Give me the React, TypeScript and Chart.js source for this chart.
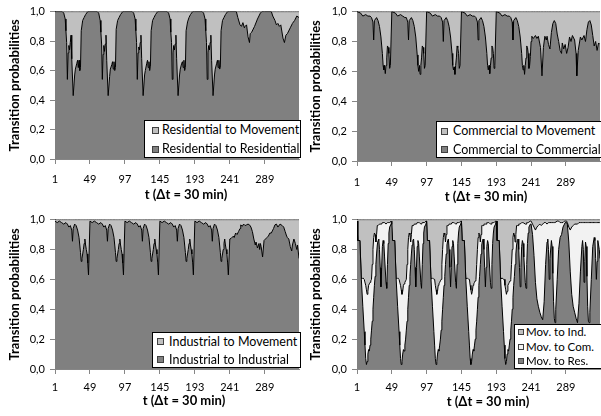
import React, { useEffect, useRef } from 'react';
import { Chart, registerables } from 'chart.js';

Chart.register(...registerables);

const FONT = 'Lato, "Open Sans", "DejaVu Sans", sans-serif';
const AXIS = '#868686';
const DARK = '#808080';
const LIGHT = '#c0c0c0';
const WHITE = '#f2f2f2';

const xTickValues = [1, 49, 97, 145, 193, 241, 289];
const xTickLabels = ['1', '49', '97', '145', '193', '241', '289'];
const yTickLabels = ['0,0', '0,2', '0,4', '0,6', '0,8', '1,0'];
const xTitle = 't (\u0394t = 30 min)';
const yTitle = 'Transition probabilities';

// ---------- Panel 1: Residential ----------
const residentialT = [
  1, 11, 13, 15, 16, 17, 18, 19, 20, 21, 22, 23, 24, 26, 28, 29, 31, 32, 33, 34, 35, 36, 37, 39, 41, 43, 46,
  49, 59, 61, 63, 64, 65, 66, 67, 68, 69, 70, 71, 72, 74, 76, 77, 79, 80, 81, 82, 83, 84, 85, 87, 89, 91, 94,
  97, 107, 109, 111, 112, 113, 114, 115, 116, 117, 118, 119, 120, 122, 124, 125, 127, 128, 129, 130, 131, 132, 133, 135, 137, 139, 142,
  145, 155, 157, 159, 160, 161, 162, 163, 164, 165, 166, 167, 168, 170, 172, 173, 175, 176, 177, 178, 179, 180, 181, 183, 185, 187, 190,
  193, 203, 205, 207, 208, 209, 210, 211, 212, 213, 214, 215, 216, 218, 220, 221, 223, 224, 225, 226, 227, 228, 229, 231, 233, 235, 238,
  241, 250, 252, 255, 257, 259, 261, 262, 264, 266, 268, 269, 271, 275, 279, 283, 285,
  289, 298, 300, 303, 305, 307, 309, 311, 314, 316, 318, 320, 324, 327, 330, 333, 336,
];
const residentialToResidential = [
  1, 1, 0.99, 0.95, 0.87, 0.79, 0.54, 0.72, 0.77, 0.74, 0.79, 0.84, 0.68, 0.43, 0.57, 0.61, 0.65, 0.67, 0.62, 0.67, 0.6, 0.62, 0.87, 0.94, 0.96, 0.98, 1,
  1, 1, 0.99, 0.94, 0.86, 0.78, 0.54, 0.71, 0.77, 0.73, 0.78, 0.84, 0.67, 0.43, 0.56, 0.61, 0.64, 0.66, 0.61, 0.66, 0.6, 0.62, 0.88, 0.94, 0.96, 0.98, 1,
  1, 1, 0.99, 0.95, 0.87, 0.79, 0.54, 0.72, 0.76, 0.74, 0.79, 0.84, 0.68, 0.43, 0.57, 0.6, 0.65, 0.67, 0.62, 0.66, 0.6, 0.63, 0.87, 0.94, 0.96, 0.98, 1,
  1, 1, 0.99, 0.95, 0.86, 0.79, 0.54, 0.72, 0.77, 0.74, 0.78, 0.84, 0.68, 0.43, 0.57, 0.61, 0.65, 0.66, 0.62, 0.67, 0.6, 0.62, 0.87, 0.93, 0.96, 0.98, 1,
  1, 1, 0.99, 0.95, 0.87, 0.79, 0.54, 0.72, 0.77, 0.74, 0.79, 0.84, 0.67, 0.43, 0.57, 0.61, 0.65, 0.67, 0.62, 0.67, 0.61, 0.62, 0.87, 0.94, 0.96, 0.98, 1,
  1, 1, 0.96, 0.91, 0.9, 0.925, 0.89, 0.9, 0.91, 0.83, 0.79, 0.85, 0.86, 0.9, 0.95, 0.99, 1,
  1, 1, 0.97, 0.94, 0.91, 0.92, 0.9, 0.91, 0.82, 0.79, 0.84, 0.85, 0.89, 0.92, 0.94, 0.97, 0.96,
];

// ---------- Panel 2: Commercial ----------
const commercialT = [
  1, 6, 9, 13, 16, 19, 21, 23, 24, 25, 28, 30, 32, 34, 36, 37, 38, 39, 40, 41, 42, 43, 44, 45, 46, 47,
  49, 54, 57, 61, 64, 67, 69, 71, 72, 73, 76, 78, 80, 82, 84, 85, 86, 87, 88, 89, 90, 91, 92, 93, 94, 95,
  97, 102, 105, 109, 112, 115, 117, 119, 120, 121, 124, 126, 128, 130, 132, 133, 134, 135, 136, 137, 138, 139, 140, 141, 142, 143,
  145, 150, 153, 157, 160, 163, 165, 167, 168, 169, 172, 174, 176, 178, 180, 181, 182, 183, 184, 185, 186, 187, 188, 189, 190, 191,
  193, 198, 201, 205, 208, 211, 213, 215, 216, 217, 220, 222, 224, 226, 228, 229, 230, 231, 232, 233, 234, 235, 236, 237, 238, 239, 240,
  241, 242, 244, 247, 249, 251, 254, 256, 258, 260, 262, 263, 265, 267, 269, 271, 273, 275, 277, 279, 281, 283, 284, 286, 288,
  290, 292, 294, 296, 298, 301, 303, 304, 306, 309, 311, 314, 316, 318, 320, 322, 324, 326, 328, 330, 332, 334, 336,
];
const commercialToCommercial = [
  1, 0.99, 0.97, 0.98, 0.97, 0.97, 0.96, 0.93, 0.81, 0.94, 0.96, 0.94, 0.9, 0.83, 0.72, 0.64, 0.61, 0.64, 0.585, 0.64, 0.69, 0.77, 0.76, 0.72, 0.62, 0.64,
  1, 0.99, 0.97, 0.98, 0.97, 0.96, 0.96, 0.93, 0.81, 0.94, 0.96, 0.94, 0.9, 0.83, 0.71, 0.64, 0.6, 0.64, 0.58, 0.64, 0.69, 0.77, 0.76, 0.72, 0.62, 0.64,
  1, 0.99, 0.97, 0.98, 0.97, 0.97, 0.96, 0.93, 0.8, 0.94, 0.96, 0.94, 0.9, 0.83, 0.72, 0.64, 0.61, 0.63, 0.58, 0.64, 0.69, 0.77, 0.76, 0.72, 0.62, 0.64,
  1, 0.99, 0.97, 0.98, 0.97, 0.97, 0.96, 0.93, 0.81, 0.94, 0.96, 0.94, 0.9, 0.83, 0.72, 0.64, 0.61, 0.64, 0.585, 0.64, 0.69, 0.77, 0.76, 0.72, 0.62, 0.64,
  1, 0.99, 0.97, 0.98, 0.97, 0.97, 0.96, 0.93, 0.81, 0.94, 0.96, 0.94, 0.9, 0.83, 0.72, 0.64, 0.61, 0.64, 0.58, 0.64, 0.69, 0.77, 0.76, 0.72, 0.62, 0.64, 0.7,
  0.8, 0.835, 0.82, 0.84, 0.82, 0.835, 0.76, 0.57, 0.76, 0.835, 0.81, 0.835, 0.78, 0.75, 0.86, 0.92, 0.94, 0.92, 0.85, 0.8, 0.74, 0.72, 0.79, 0.75, 0.78,
  0.72, 0.76, 0.83, 0.8, 0.84, 0.81, 0.72, 0.57, 0.74, 0.83, 0.81, 0.84, 0.8, 0.88, 0.93, 0.94, 0.91, 0.84, 0.77, 0.8, 0.74, 0.79, 0.78,
];

// ---------- Panel 3: Industrial ----------
const industrialT = [
  1, 4, 7, 10, 13, 16, 18, 20, 22, 24, 25, 26, 28, 30, 32, 34, 36, 37, 38, 39, 40, 41, 42, 43, 44, 45, 46, 47,
  49, 52, 55, 58, 61, 64, 66, 68, 70, 72, 73, 74, 76, 78, 80, 82, 84, 85, 86, 87, 88, 89, 90, 91, 92, 93, 94, 95,
  97, 100, 103, 106, 109, 112, 114, 116, 118, 120, 121, 122, 124, 126, 128, 130, 132, 133, 134, 135, 136, 137, 138, 139, 140, 141, 142, 143,
  145, 148, 151, 154, 157, 160, 162, 164, 166, 168, 169, 170, 172, 174, 176, 178, 180, 181, 182, 183, 184, 185, 186, 187, 188, 189, 190, 191,
  193, 196, 199, 202, 205, 208, 210, 212, 214, 216, 217, 218, 220, 222, 224, 226, 228, 229, 230, 231, 232, 233, 234, 235, 236, 237, 238, 239,
  241, 243, 246, 247, 249, 251, 253, 255, 256, 258, 260, 262, 264, 266, 268, 270, 272, 274, 276, 277, 279, 281, 282, 283, 284, 286, 288,
  290, 292, 294, 296, 298, 300, 301, 303, 305, 307, 310, 311, 313, 315, 317, 319, 320, 322, 324, 326, 327, 329, 331, 333, 334, 336,
];
const industrialToIndustrial = [
  0.99, 0.98, 0.99, 0.98, 0.97, 0.98, 0.97, 0.95, 0.96, 0.93, 0.855, 0.94, 0.97, 0.96, 0.93, 0.88, 0.78, 0.72, 0.74, 0.77, 0.8, 0.84, 0.87, 0.83, 0.8, 0.77, 0.71, 0.63,
  0.99, 0.98, 0.99, 0.98, 0.97, 0.98, 0.97, 0.95, 0.96, 0.93, 0.855, 0.94, 0.97, 0.96, 0.93, 0.88, 0.78, 0.72, 0.74, 0.77, 0.8, 0.84, 0.87, 0.83, 0.8, 0.77, 0.71, 0.63,
  0.99, 0.98, 0.99, 0.98, 0.97, 0.98, 0.97, 0.95, 0.96, 0.93, 0.855, 0.94, 0.97, 0.96, 0.93, 0.88, 0.78, 0.72, 0.74, 0.77, 0.8, 0.84, 0.87, 0.83, 0.8, 0.77, 0.71, 0.63,
  0.99, 0.98, 0.99, 0.98, 0.97, 0.98, 0.97, 0.95, 0.96, 0.93, 0.855, 0.94, 0.97, 0.96, 0.93, 0.88, 0.78, 0.72, 0.74, 0.77, 0.8, 0.84, 0.87, 0.83, 0.8, 0.77, 0.71, 0.63,
  0.99, 0.98, 0.99, 0.98, 0.97, 0.98, 0.97, 0.95, 0.96, 0.93, 0.855, 0.94, 0.97, 0.96, 0.93, 0.88, 0.78, 0.72, 0.74, 0.77, 0.8, 0.84, 0.87, 0.83, 0.8, 0.77, 0.71, 0.63,
  0.87, 0.875, 0.89, 0.88, 0.91, 0.9, 0.92, 0.94, 0.965, 0.955, 0.97, 0.96, 0.965, 0.97, 0.965, 0.95, 0.92, 0.87, 0.83, 0.85, 0.81, 0.84, 0.8, 0.84, 0.82, 0.75, 0.86,
  0.87, 0.88, 0.89, 0.91, 0.91, 0.93, 0.94, 0.965, 0.97, 0.95, 0.97, 0.97, 0.96, 0.95, 0.92, 0.89, 0.88, 0.87, 0.82, 0.79, 0.83, 0.87, 0.84, 0.8, 0.83, 0.74,
];

// ---------- Panel 4: Movement ----------
const movementT = [
  1, 2, 5, 7, 9, 11, 12, 13, 14, 15, 16, 17, 18, 19, 20, 21, 22, 23, 24, 25, 26, 27, 28, 29, 30, 31, 32, 33, 34, 35, 36, 37, 38, 39, 41, 42, 43, 44, 45, 46, 48,
  49, 50, 53, 55, 57, 59, 60, 61, 62, 63, 64, 65, 66, 67, 68, 69, 70, 71, 72, 73, 74, 75, 76, 77, 78, 79, 80, 81, 82, 83, 84, 85, 86, 87, 89, 90, 91, 92, 93, 94, 96,
  97, 98, 101, 103, 105, 107, 108, 109, 110, 111, 112, 113, 114, 115, 116, 117, 118, 119, 120, 121, 122, 123, 124, 125, 126, 127, 128, 129, 130, 131, 132, 133, 134, 135, 137, 138, 139, 140, 141, 142, 144,
  145, 146, 149, 151, 153, 155, 156, 157, 158, 159, 160, 161, 162, 163, 164, 165, 166, 167, 168, 169, 170, 171, 172, 173, 174, 175, 176, 177, 178, 179, 180, 181, 182, 183, 185, 186, 187, 188, 189, 190, 192,
  193, 194, 197, 199, 201, 203, 204, 205, 206, 207, 208, 209, 210, 211, 212, 213, 214, 215, 216, 217, 218, 219, 220, 221, 222, 223, 224, 225, 226, 227, 228, 229, 230, 231, 233, 234, 235, 236, 237, 238, 240,
  241, 243, 245, 247, 249, 251, 253, 255, 257, 259, 261, 263, 264, 265, 266, 267, 269, 270, 271, 272, 273, 274, 275, 277, 279, 281, 283, 285, 287, 288,
  290, 291, 293, 295, 297, 299, 301, 303, 305, 307, 309, 311, 312, 313, 314, 315, 316, 317, 318, 319, 320, 321, 322, 324, 326, 328, 329, 330, 331, 332, 333, 335, 336,
];
// "Mov. to Res." (top of the dark band)
const movementToResidential = [
  0.99, 0.86, 0.86, 0.6, 0.42, 0.25, 0.16, 0.07, 0.03, 0.05, 0.1, 0.13, 0.12, 0.16, 0.2, 0.26, 0.32, 0.4, 0.48, 0.56, 0.62, 0.7, 0.77, 0.83, 0.86, 0.87, 0.8, 0.68, 0.55, 0.68, 0.82, 0.86, 0.84, 0.75, 0.58, 0.54, 0.7, 0.84, 0.91, 0.95, 0.97,
  0.99, 0.86, 0.86, 0.6, 0.42, 0.25, 0.16, 0.07, 0.03, 0.05, 0.1, 0.13, 0.12, 0.16, 0.2, 0.26, 0.32, 0.4, 0.48, 0.56, 0.62, 0.7, 0.77, 0.83, 0.86, 0.87, 0.8, 0.68, 0.55, 0.68, 0.82, 0.86, 0.84, 0.75, 0.58, 0.54, 0.7, 0.84, 0.91, 0.95, 0.97,
  0.99, 0.86, 0.86, 0.6, 0.42, 0.25, 0.16, 0.07, 0.03, 0.05, 0.1, 0.13, 0.12, 0.16, 0.2, 0.26, 0.32, 0.4, 0.48, 0.56, 0.62, 0.7, 0.77, 0.83, 0.86, 0.87, 0.8, 0.68, 0.55, 0.68, 0.82, 0.86, 0.84, 0.75, 0.58, 0.54, 0.7, 0.84, 0.91, 0.95, 0.97,
  0.99, 0.86, 0.86, 0.6, 0.42, 0.25, 0.16, 0.07, 0.03, 0.05, 0.1, 0.13, 0.12, 0.16, 0.2, 0.26, 0.32, 0.4, 0.48, 0.56, 0.62, 0.7, 0.77, 0.83, 0.86, 0.87, 0.8, 0.68, 0.55, 0.68, 0.82, 0.86, 0.84, 0.75, 0.58, 0.54, 0.7, 0.84, 0.91, 0.95, 0.97,
  0.99, 0.86, 0.86, 0.6, 0.42, 0.25, 0.16, 0.07, 0.03, 0.05, 0.1, 0.13, 0.12, 0.16, 0.2, 0.26, 0.32, 0.4, 0.48, 0.56, 0.62, 0.7, 0.77, 0.83, 0.86, 0.87, 0.8, 0.68, 0.55, 0.68, 0.82, 0.86, 0.84, 0.75, 0.58, 0.54, 0.7, 0.84, 0.91, 0.95, 0.97,
  0.97, 0.9, 0.76, 0.58, 0.47, 0.42, 0.38, 0.35, 0.33, 0.45, 0.7, 0.85, 0.87, 0.8, 0.6, 0.74, 0.86, 0.82, 0.64, 0.45, 0.34, 0.31, 0.4, 0.6, 0.8, 0.88, 0.9, 0.95, 0.97, 0.98,
  0.98, 0.97, 0.85, 0.65, 0.5, 0.42, 0.38, 0.34, 0.31, 0.44, 0.65, 0.82, 0.86, 0.8, 0.58, 0.72, 0.85, 0.82, 0.62, 0.42, 0.32, 0.31, 0.38, 0.6, 0.82, 0.88, 0.86, 0.74, 0.6, 0.72, 0.86, 0.8, 0.74,
];
// upper edge of the "Mov. to Com." band (Res + Com)
const movementResPlusCom = [
  0.99, 0.86, 0.86, 0.6, 0.61, 0.6, 0.6, 0.56, 0.53, 0.5, 0.52, 0.56, 0.57, 0.58, 0.59, 0.6, 0.7, 0.8, 0.88, 0.91, 0.9, 0.85, 0.9, 0.96, 0.96, 0.96, 0.97, 0.97, 0.97, 0.97, 0.98, 0.98, 0.98, 0.98, 0.97, 0.97, 0.98, 0.98, 0.98, 0.98, 0.99,
  0.99, 0.86, 0.86, 0.6, 0.61, 0.6, 0.6, 0.56, 0.53, 0.5, 0.52, 0.56, 0.57, 0.58, 0.59, 0.6, 0.7, 0.8, 0.88, 0.91, 0.9, 0.85, 0.9, 0.96, 0.96, 0.96, 0.97, 0.97, 0.97, 0.97, 0.98, 0.98, 0.98, 0.98, 0.97, 0.97, 0.98, 0.98, 0.98, 0.98, 0.99,
  0.99, 0.86, 0.86, 0.6, 0.61, 0.6, 0.6, 0.56, 0.53, 0.5, 0.52, 0.56, 0.57, 0.58, 0.59, 0.6, 0.7, 0.8, 0.88, 0.91, 0.9, 0.85, 0.9, 0.96, 0.96, 0.96, 0.97, 0.97, 0.97, 0.97, 0.98, 0.98, 0.98, 0.98, 0.97, 0.97, 0.98, 0.98, 0.98, 0.98, 0.99,
  0.99, 0.86, 0.86, 0.6, 0.61, 0.6, 0.6, 0.56, 0.53, 0.5, 0.52, 0.56, 0.57, 0.58, 0.59, 0.6, 0.7, 0.8, 0.88, 0.91, 0.9, 0.85, 0.9, 0.96, 0.96, 0.96, 0.97, 0.97, 0.97, 0.97, 0.98, 0.98, 0.98, 0.98, 0.97, 0.97, 0.98, 0.98, 0.98, 0.98, 0.99,
  0.99, 0.86, 0.86, 0.6, 0.61, 0.6, 0.6, 0.56, 0.53, 0.5, 0.52, 0.56, 0.57, 0.58, 0.59, 0.6, 0.7, 0.8, 0.88, 0.91, 0.9, 0.85, 0.9, 0.96, 0.96, 0.96, 0.97, 0.97, 0.97, 0.97, 0.98, 0.98, 0.98, 0.98, 0.97, 0.97, 0.98, 0.98, 0.98, 0.98, 0.99,
  0.99, 0.97, 0.95, 0.93, 0.95, 0.96, 0.97, 0.96, 0.97, 0.98, 0.98, 0.97, 0.97, 0.98, 0.98, 0.98, 0.98, 0.98, 0.98, 0.98, 0.98, 0.98, 0.98, 0.99, 0.99, 0.98, 0.98, 0.98, 0.99, 0.99,
  0.99, 0.98, 0.95, 0.93, 0.95, 0.96, 0.97, 0.97, 0.97, 0.98, 0.98, 0.98, 0.98, 0.98, 0.98, 0.98, 0.98, 0.98, 0.98, 0.98, 0.98, 0.98, 0.98, 0.98, 0.98, 0.98, 0.98, 0.98, 0.98, 0.98, 0.98, 0.98, 0.98,
];

// ---------- helpers ----------
const pts = (ts: number[], vs: number[]) => ts.map((t, i) => ({ x: t, y: vs[i] }));
const ds = (label: string, ts: number[], vs: number[], color: string, fill: string) => ({
  label,
  data: pts(ts, vs),
  fill,
  backgroundColor: color,
  borderColor: '#000',
  borderWidth: 1,
  pointRadius: 0,
  tension: 0,
});

type LegendItem = { label: string; color: string };
type LegendSpec = {
  left: number; top: number; width: number; height: number;
  rows: number[]; markerLeft: number; markerSize: number; textLeft: number; fontSize: number;
  items: LegendItem[];
};
type PanelSpec = {
  left: number; top: number; width: number; height: number;
  plotLeft: number; plotTop: number; plotBottom: number; padRight: number;
  tickPad: number; yTitlePad: number; titleX: number; titleY: number;
  datasets: any[];
  legend: LegendSpec;
};

const movementToCommercial = movementResPlusCom.map((v, i) => v - movementToResidential[i]);
const movementToIndustrial = movementResPlusCom.map((v) => 1 - v);

const panels: PanelSpec[] = [
  {
    left: 0, top: 0, width: 300, height: 208,
    plotLeft: 55, plotTop: 6, plotBottom: 159, padRight: 1,
    tickPad: 9, yTitlePad: 7, titleX: 186, titleY: 194,
    datasets: [
      ds('Residential to Residential', residentialT, residentialToResidential, DARK, 'origin'),
      ds('Residential to Movement', residentialT, residentialToResidential.map((v) => 1 - v), LIGHT, '-1'),
    ],
    legend: {
      left: 144, top: 120, width: 157, height: 38, rows: [9, 28], markerLeft: 7, markerSize: 7, textLeft: 17, fontSize: 12.5,
      items: [
        { label: 'Residential to Movement', color: LIGHT },
        { label: 'Residential to Residential', color: DARK },
      ],
    },
  },
  {
    left: 300, top: 0, width: 301, height: 208,
    plotLeft: 57, plotTop: 6, plotBottom: 161, padRight: 1,
    tickPad: 10, yTitlePad: 8, titleX: 186, titleY: 196,
    datasets: [
      ds('Commercial to Commercial', commercialT, commercialToCommercial, DARK, 'origin'),
      ds('Commercial to Movement', commercialT, commercialToCommercial.map((v) => 1 - v), LIGHT, '-1'),
    ],
    legend: {
      left: 136, top: 121, width: 170, height: 37, rows: [9, 27.5], markerLeft: 4, markerSize: 7, textLeft: 16, fontSize: 12.5,
      items: [
        { label: 'Commercial to Movement', color: LIGHT },
        { label: 'Commercial to Commercial', color: DARK },
      ],
    },
  },
  {
    left: 0, top: 208, width: 300, height: 208,
    plotLeft: 55, plotTop: 8, plotBottom: 161, padRight: 1,
    tickPad: 7, yTitlePad: 7, titleX: 184, titleY: 192,
    datasets: [
      ds('Industrial to Industrial', industrialT, industrialToIndustrial, DARK, 'origin'),
      ds('Industrial to Movement', industrialT, industrialToIndustrial.map((v) => 1 - v), LIGHT, '-1'),
    ],
    legend: {
      left: 152, top: 124, width: 149, height: 36, rows: [8.5, 26.5], markerLeft: 4, markerSize: 7, textLeft: 16, fontSize: 12.5,
      items: [
        { label: 'Industrial to Movement', color: LIGHT },
        { label: 'Industrial to Industrial', color: DARK },
      ],
    },
  },
  {
    left: 300, top: 208, width: 301, height: 208,
    plotLeft: 57, plotTop: 9, plotBottom: 161, padRight: 1,
    tickPad: 7, yTitlePad: 8, titleX: 188, titleY: 193,
    datasets: [
      ds('Mov. to Res.', movementT, movementToResidential, DARK, 'origin'),
      ds('Mov. to Com.', movementT, movementToCommercial, WHITE, '-1'),
      ds('Mov. to Ind.', movementT, movementToIndustrial, LIGHT, '-1'),
    ],
    legend: {
      left: 214, top: 116, width: 90, height: 45, rows: [7, 21.5, 36], markerLeft: 3, markerSize: 6, textLeft: 11, fontSize: 11.5,
      items: [
        { label: 'Mov. to Ind.', color: LIGHT },
        { label: 'Mov. to Com.', color: WHITE },
        { label: 'Mov. to Res.', color: DARK },
      ],
    },
  },
];

function Panel({ spec }: { spec: PanelSpec }) {
  const ref = useRef<HTMLCanvasElement>(null);
  useEffect(() => {
    const canvas = ref.current;
    if (!canvas) return;
    const tickFont = { family: FONT, size: 11 };
    const chart = new Chart(canvas, {
      type: 'line',
      data: { datasets: spec.datasets },
      options: {
        animation: false,
        responsive: false,
        devicePixelRatio: 1,
        events: [],
        layout: { padding: { top: spec.plotTop, right: spec.padRight, bottom: 0, left: 0 } },
        plugins: { legend: { display: false }, tooltip: { enabled: false }, title: { display: false } },
        elements: { point: { radius: 0 }, line: { tension: 0 } },
        scales: {
          x: {
            type: 'linear',
            min: 1,
            max: 336,
            afterBuildTicks: (s: any) => {
              s.ticks = xTickValues.map((v) => ({ value: v }));
            },
            afterFit: (s: any) => {
              s.height = spec.height - spec.plotBottom;
            },
            ticks: {
              autoSkip: false,
              maxRotation: 0,
              minRotation: 0,
              font: tickFont,
              color: '#000',
              padding: spec.tickPad,
              callback: (_v: any, i: number) => xTickLabels[i],
            },
            grid: { drawOnChartArea: false, drawTicks: true, tickLength: 5, color: AXIS },
            border: { display: true, color: AXIS, width: 1 },
          },
          y: {
            type: 'linear',
            stacked: true,
            min: 0,
            max: 1,
            afterFit: (s: any) => {
              s.width = spec.plotLeft;
            },
            ticks: {
              stepSize: 0.2,
              font: tickFont,
              color: '#000',
              padding: 5,
              callback: (v: any) => yTickLabels[Math.round(Number(v) * 5)],
            },
            grid: { drawOnChartArea: false, drawTicks: true, tickLength: 5, color: AXIS },
            border: { display: true, color: AXIS, width: 1 },
            title: {
              display: true,
              text: yTitle,
              color: '#000',
              font: { family: FONT, size: 13, weight: 'bold' },
              padding: { top: spec.yTitlePad, bottom: 0 },
            },
          },
        },
      } as any,
    });
    return () => chart.destroy();
  }, [spec]);

  const lg = spec.legend;
  return (
    <div style={{ position: 'absolute', left: spec.left, top: spec.top, width: spec.width, height: spec.height }}>
      <canvas
        ref={ref}
        width={spec.width}
        height={spec.height}
        style={{ display: 'block', width: spec.width, height: spec.height }}
      />
      <div
        style={{
          position: 'absolute',
          left: lg.left,
          top: lg.top,
          width: lg.width,
          height: lg.height,
          background: '#fff',
          border: '1px solid #000',
          boxSizing: 'border-box',
        }}
      >
        {lg.items.map((it, i) => (
          <div key={i} style={{ position: 'absolute', left: 0, top: lg.rows[i] - 8, height: 16, width: '100%' }}>
            <span
              style={{
                position: 'absolute',
                left: lg.markerLeft,
                top: 8 - lg.markerSize / 2,
                width: lg.markerSize,
                height: lg.markerSize,
                background: it.color,
                border: '1px solid #404040',
                boxSizing: 'border-box',
              }}
            />
            <span
              style={{
                position: 'absolute',
                left: lg.textLeft,
                top: 0,
                height: 16,
                lineHeight: '16px',
                whiteSpace: 'nowrap',
                fontFamily: FONT,
                fontSize: lg.fontSize,
                color: '#000',
              }}
            >
              {it.label}
            </span>
          </div>
        ))}
      </div>
      <div
        style={{
          position: 'absolute',
          left: spec.titleX - 70,
          width: 140,
          top: spec.titleY - 9,
          height: 18,
          lineHeight: '18px',
          textAlign: 'center',
          fontFamily: FONT,
          fontWeight: 'bold',
          fontSize: 13,
          color: '#000',
          whiteSpace: 'nowrap',
        }}
      >
        {xTitle}
      </div>
    </div>
  );
}

export default function App() {
  return (
    <div
      style={{
        position: 'absolute',
        left: 0,
        top: 0,
        width: 601,
        height: 416,
        overflow: 'hidden',
        background: '#fff',
      }}
    >
      {panels.map((p, i) => (
        <Panel key={i} spec={p} />
      ))}
    </div>
  );
}
